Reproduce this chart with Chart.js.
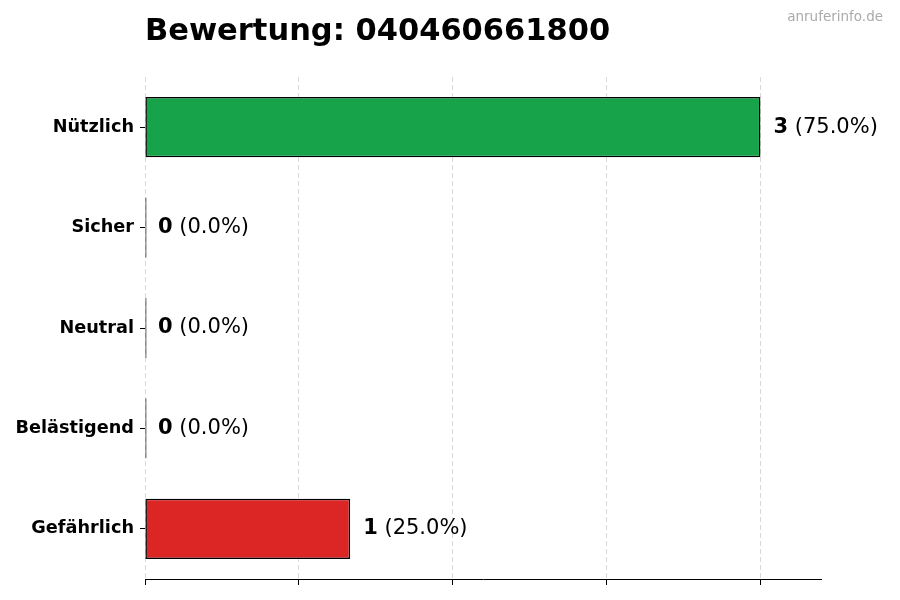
<!DOCTYPE html>
<html>
<head>
<meta charset="utf-8">
<script src="https://cdn.jsdelivr.net/npm/chart.js@4"></script>
<style>
  html, body { margin: 0; padding: 0; background: #fff; }
  #wrap { width: 900px; height: 600px; position: relative; }
</style>
</head>
<body>
<div id="wrap"><canvas id="ratingChart"></canvas></div>
<script>
const categories = ['Nützlich', 'Sicher', 'Neutral', 'Belästigend', 'Gefährlich'];
const counts = [3, 0, 0, 0, 1];
const barColors = ['#16a34a', '#16a34a', '#16a34a', '#16a34a', '#dc2626'];
const xTicks = [0, 0.75, 1.5, 2.25, 3];
const xMax = 3.3;
const chartTitle = 'Bewertung: 040460661800';
const watermark = 'anruferinfo.de';

const total = counts.reduce((a, b) => a + b, 0);
const FONT = '"DejaVu Sans", sans-serif';

// title, watermark and the value labels next to each bar
const labelsPlugin = {
  id: 'labels',
  afterDatasetsDraw(chart) {
    const ctx = chart.ctx;
    const xScale = chart.scales.x;
    const yScale = chart.scales.y;

    ctx.save();
    ctx.textBaseline = 'middle';
    counts.forEach((v, i) => {
      const x = xScale.getPixelForValue(v) + 13;
      const y = yScale.getPixelForValue(i);
      const pct = ' (' + (total ? (v / total * 100) : 0).toFixed(1) + '%)';
      ctx.fillStyle = '#000';
      ctx.font = 'bold 21px ' + FONT;
      ctx.textAlign = 'left';
      ctx.fillText(String(v), x, y);
      const w = ctx.measureText(String(v)).width;
      ctx.font = '21px ' + FONT;
      ctx.fillText(pct, x + w, y);
    });

    // bottom spine
    const yb = Math.round(chart.chartArea.bottom) + 0.5;
    ctx.strokeStyle = '#000';
    ctx.lineWidth = 1;
    ctx.setLineDash([]);
    ctx.beginPath();
    ctx.moveTo(chart.chartArea.left, yb);
    ctx.lineTo(chart.chartArea.right, yb);
    ctx.stroke();

    ctx.textBaseline = 'alphabetic';
    ctx.font = 'bold 30.5px ' + FONT;
    ctx.textAlign = 'left';
    ctx.fillText(chartTitle, chart.chartArea.left, 40);

    ctx.font = '13.5px ' + FONT;
    ctx.fillStyle = '#aaaaaa';
    ctx.textAlign = 'right';
    ctx.textBaseline = 'middle';
    ctx.fillText(watermark, 883, 17);
    ctx.restore();
  }
};

const ctx = document.getElementById('ratingChart').getContext('2d');
new Chart(ctx, {
  type: 'bar',
  data: {
    labels: categories,
    datasets: [{
      data: counts,
      backgroundColor: barColors,
      borderColor: '#000',
      borderWidth: 1.5,
      borderSkipped: false,
      barPercentage: 0.6,
      categoryPercentage: 1,
      minBarLength: 1.5
    }]
  },
  options: {
    indexAxis: 'y',
    responsive: true,
    maintainAspectRatio: false,
    animation: false,
    layout: { padding: { top: 77, right: 78, bottom: 0, left: 0 } },
    plugins: {
      legend: { display: false },
      title: { display: false },
      tooltip: { enabled: false }
    },
    scales: {
      x: {
        min: 0,
        max: xMax,
        afterBuildTicks: (scale) => { scale.ticks = xTicks.map(v => ({ value: v })); },
        afterFit: (scale) => { scale.height = 21; },
        ticks: { display: false },
        grid: {
          color: '#cfcfcf',
          lineWidth: 0.8,
          drawTicks: true,
          tickLength: 6,
          tickColor: '#000',
          tickWidth: 1,
          tickBorderDash: []
        },
        border: { display: false, dash: [5, 3] }
      },
      y: {
        afterFit: (scale) => { scale.width = 145; },
        ticks: {
          color: '#000',
          padding: 6,
          font: { family: FONT, size: 17.7, weight: 'bold' }
        },
        grid: {
          offset: false,
          drawOnChartArea: false,
          drawTicks: true,
          tickLength: 5,
          tickColor: '#000'
        },
        border: { display: false }
      }
    }
  },
  plugins: [labelsPlugin]
});
</script>
</body>
</html>
